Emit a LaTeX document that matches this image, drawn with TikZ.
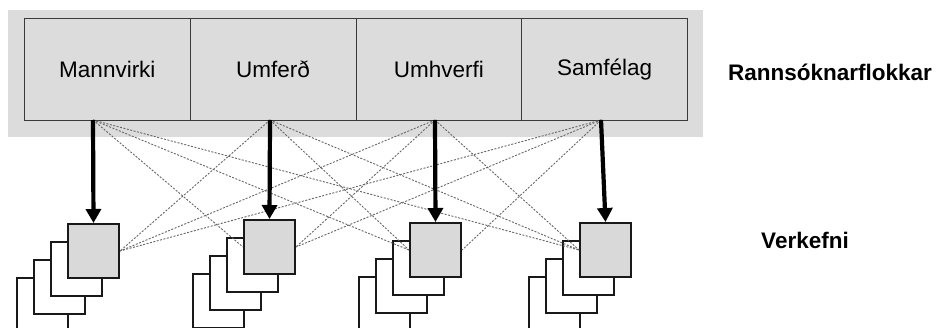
\documentclass[tikz,border=0pt]{standalone}
\usepackage{fontspec}
\setmainfont{Liberation Sans}
\usetikzlibrary{arrows.meta}
\definecolor{bgc}{HTML}{DCDCDC}
\definecolor{boxc}{HTML}{D9D9D9}
\definecolor{edgec}{HTML}{3A3A3A}
\definecolor{dotc}{HTML}{666666}
\tikzset{
  cat/.style={draw=edgec, fill=bgc, line width=1pt, minimum width=165.75pt, minimum height=102pt,
    inner sep=0pt, anchor=north west, font=\fontsize{22.5}{26}\selectfont},
  tfront/.style={draw=black!90, fill=boxc, line width=2pt, minimum width=51pt, minimum height=54pt,
    inner sep=0pt, anchor=north west},
  tback/.style={draw=black!90, fill=white, line width=1.6pt, minimum width=51pt, minimum height=54pt,
    inner sep=0pt, anchor=north west},
  heavy/.style={line width=4.2pt, -{Triangle[width=15pt,length=14pt]}},
  thin/.style={draw=dotc, line width=0.9pt, dash pattern=on 2pt off 1.5pt},
  lbl/.style={font=\bfseries\fontsize{22.5}{26}\selectfont, anchor=base, inner sep=0pt}
}
\begin{document}
\begin{tikzpicture}[x=1pt,y=-1pt]
\clip (0,0) rectangle (939,327);
\fill[white] (0,0) rectangle (939,327);
\fill[bgc] (8,10) rectangle (703,137);
% categories
\node[cat] (m1) at (24,18) {Mannvirki};
\node[cat] (m2) at (189.75,18) {Umferð};
\node[cat] (m3) at (355.5,18) {Umhverfi};
\node[cat] (m4) at (521.25,18) {Samfélag};
\node[lbl] (rf) at (830,80) {Rannsóknarflokkar};
\node[lbl] (vk) at (805,248) {Verkefni};
% task stacks
\foreach \n/\x/\y in {1/67/223, 2/243/219, 3/409/222, 4/579/222}{
  \node[tback] (b\n c) at (\x-51,\y+54) {};
  \node[tback] (b\n b) at (\x-34,\y+36) {};
  \node[tback] (b\n a) at (\x-17,\y+18) {};
  \node[tfront] (t\n) at (\x,\y) {};
}
% arrow start coordinates on the category boxes
\coordinate (a1) at (93,120);
\coordinate (a2) at (270,120);
\coordinate (a3) at (435,120);
\coordinate (a4) at (601,120);
% dotted cross links
\draw[thin] (a1) -- (t2.west);
\draw[thin] (a1) -- (t3.west);
\draw[thin] (a1) -- (t4.west);
\draw[thin] (a2) -- (t1.east);
\draw[thin] (a2) -- (t3.west);
\draw[thin] (a2) -- (t4.west);
\draw[thin] (a3) -- (t1.east);
\draw[thin] (a3) -- (t2.east);
\draw[thin] (a3) -- (t4.west);
\draw[thin] (a4) -- (t1.east);
\draw[thin] (a4) -- (t2.east);
\draw[thin] (a4) -- (t3.east);
% main arrows
\draw[heavy] (a1) -- (t1.north);
\draw[heavy] (a2) -- (t2.north);
\draw[heavy] (a3) -- (t3.north);
\draw[heavy] (a4) -- (t4.north);
\end{tikzpicture}
\end{document}
